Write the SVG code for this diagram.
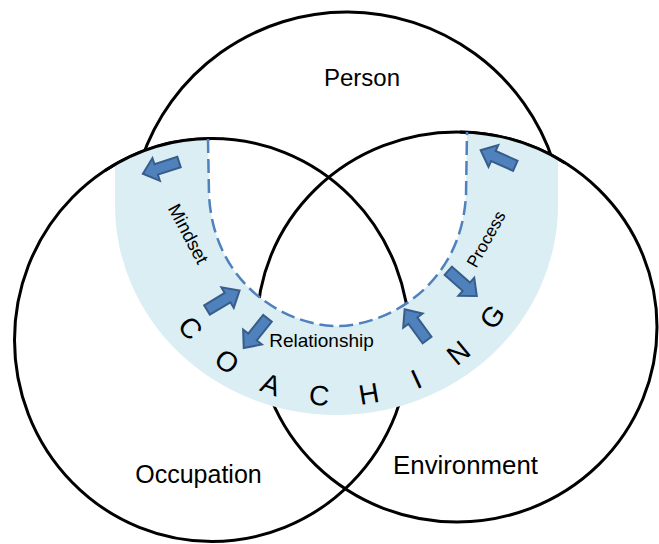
<svg xmlns="http://www.w3.org/2000/svg" xmlns:xlink="http://www.w3.org/1999/xlink" width="659" height="544" viewBox="0 0 659 544">
  <style>
    .ring { fill: none; stroke: #000; stroke-width: 3; }
    .label { font-family: "Liberation Sans", Arial, sans-serif; fill: #000; }
    .band { fill: #DAEEF3; stroke: none; }
    .inner { fill: none; stroke: #4F81BD; stroke-width: 2.5; stroke-dasharray: 14 6; }
    .arrow { fill: #4F81BD; stroke: #385D8A; stroke-width: 2; stroke-linejoin: miter; }
    .letter { font-family: "Liberation Sans", Arial, sans-serif; font-size: 28px; fill: #000; text-anchor: middle; }
  </style>
  <defs>
    <!-- block arrow pointing along +x, tail at the origin -->
    <path id="blockArrow" d="M0,-5.5 H24 V-12 L38,0 L24,12 V5.5 H0 Z"/>
  </defs>

  <rect width="659" height="544" fill="#fff"/>

  <g id="person">
    <path class="ring" d="M141.3,160 A217,217 0 0 1 553.4,162"/>
    <text class="label" x="362" y="86" font-size="24" text-anchor="middle">Person</text>
  </g>

  <g id="occupation">
    <ellipse class="ring" cx="212" cy="340" rx="197.5" ry="201.5"/>
    <text class="label" x="198.5" y="483" font-size="25" text-anchor="middle">Occupation</text>
  </g>

  <g id="environment">
    <ellipse class="ring" cx="457" cy="327" rx="200" ry="195"/>
    <text class="label" x="465.5" y="474" font-size="25.8" text-anchor="middle">Environment</text>
  </g>

  <g id="coaching">
    <!-- shaded horseshoe band -->
    <path class="band" d="M115,164.5 A197.5,201.5 0 0 1 208,138.6 L209,195 C214,288 290,326 337,326 C384,326 461,288 466,195 L467,132 A200,195 0 0 1 558,158.7 L558,205 A221.5,210 0 0 1 336.5,415 A221.5,210 0 0 1 115,205 Z"/>
    <!-- circle rims bounding the top of the band -->
    <path class="ring" d="M105,170.6 A197.5,201.5 0 0 1 215,138.5"/>
    <path class="ring" d="M460,132 A200,195 0 0 1 565,162.9"/>
    <!-- dashed inner edge -->
    <path class="inner" d="M208,139 L209,195 C214,288 290,326 337,326 C384,326 461,288 466,195 L467,132"/>

    <text class="label" font-size="18.5" text-anchor="middle" transform="translate(188,234) rotate(62)" x="0" y="6">Mindset</text>
    <text class="label" font-size="17" text-anchor="middle" transform="translate(486,239) rotate(-61)" x="0" y="6">Process</text>
    <text class="label" x="321.5" y="347" font-size="19" text-anchor="middle">Relationship</text>

    <!-- lettering around the band -->
    <text class="letter" transform="translate(183.0,334.2) rotate(50)">C</text>
    <text class="letter" transform="translate(221.4,369.4) rotate(35.1)">O</text>
    <text class="letter" transform="translate(267.6,393.6) rotate(20.2)">A</text>
    <text class="letter" transform="translate(318.4,405.1) rotate(5.3)">C</text>
    <text class="letter" transform="translate(370.5,403.2) rotate(-9.6)">H</text>
    <text class="letter" transform="translate(420.4,387.9) rotate(-24.5)">I</text>
    <text class="letter" transform="translate(464.6,360.3) rotate(-39.4)">N</text>
    <text class="letter" transform="translate(500.2,322.3) rotate(-54.3)">G</text>
  </g>

  <g id="arrows">
    <use class="arrow" xlink:href="#blockArrow" transform="translate(179,162) rotate(162)"/>
    <use class="arrow" xlink:href="#blockArrow" transform="translate(515.3,165.8) rotate(204.2)"/>
    <use class="arrow" xlink:href="#blockArrow" transform="translate(207,310) rotate(-31)"/>
    <use class="arrow" xlink:href="#blockArrow" transform="translate(267.5,318.3) rotate(128.7)"/>
    <use class="arrow" xlink:href="#blockArrow" transform="translate(427,340) rotate(-126)"/>
    <use class="arrow" xlink:href="#blockArrow" transform="translate(448.3,270.8) rotate(41.4)"/>
  </g>
</svg>
